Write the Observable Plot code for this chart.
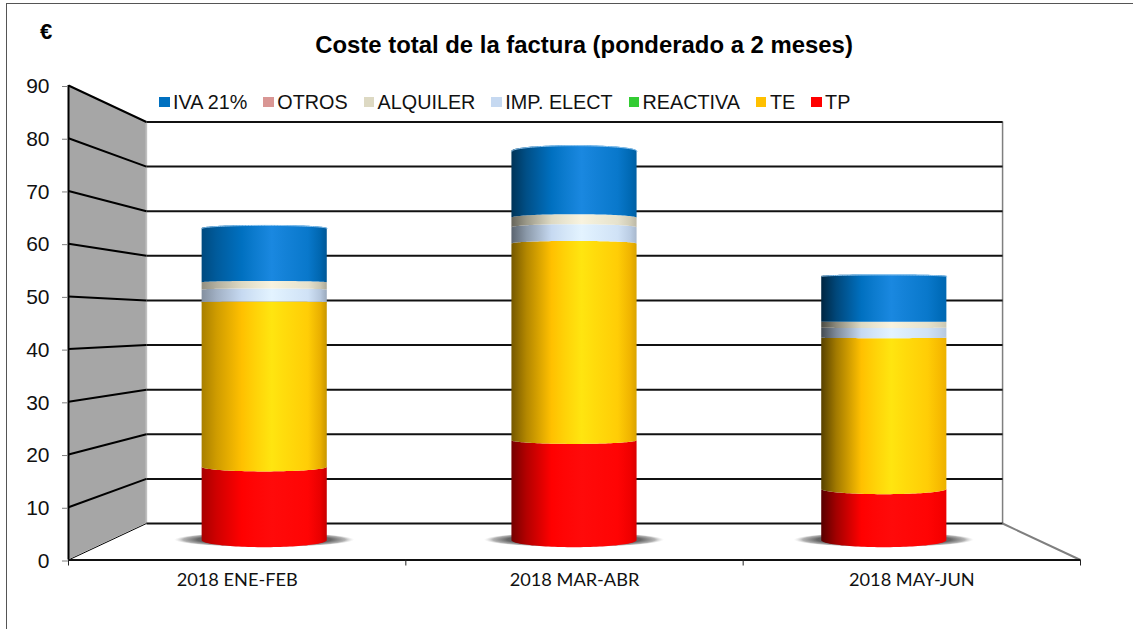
<!DOCTYPE html>
<html lang="es">
<head>
<meta charset="utf-8">
<script src="https://cdn.jsdelivr.net/npm/d3@7"></script>
<script src="https://cdn.jsdelivr.net/npm/@observablehq/plot@0.6"></script>
<style>
  html, body { margin: 0; padding: 0; background: #fff; overflow: hidden; }
  #chart { position: relative; width: 1133px; height: 629px; font-family: "Liberation Sans", Arial, sans-serif; color: #111; }
  #frame { position: absolute; left: 5.5px; top: 3px; right: -5px; bottom: -5px; border-left: 1.5px solid #555; border-top: 1.5px solid #555; }
  #chart svg { position: absolute; left: 0; top: 0; }
  #title { position: absolute; left: 0; width: 1168px; top: 31px; text-align: center; font-weight: bold; font-size: 23.9px; line-height: 28px; color: #000; z-index: 2; }
  #unit { position: absolute; left: 40px; top: 20px; font-weight: bold; font-size: 22px; line-height: 24px; color: #000; z-index: 2; }
  #legend { position: absolute; left: 159px; top: 91px; display: flex; font-size: 19.8px; line-height: 22px; z-index: 2; white-space: nowrap; }
  #legend .item { display: flex; align-items: center; margin-right: 15.9px; }
  #legend .sw { width: 10.5px; height: 10.5px; margin-right: 3.5px; }
</style>
</head>
<body>
<div id="chart">
  <div id="frame"></div>
  <div id="title">Coste total de la factura (ponderado a 2 meses)</div>
  <div id="unit">€</div>
  <div id="legend"></div>
</div>
<script>
const categories = ["2018 ENE-FEB", "2018 MAR-ABR", "2018 MAY-JUN"];
const tp       = [15.15, 20.65, 10.6];
const te       = [34.0, 40.6, 31.2];
const reactiva = [0, 0, 0];
const impElect = [2.6, 3.35, 2.05];
const alquiler = [1.5, 2.0, 1.25];
const otros    = [0, 0, 0];
const iva      = [11.2, 13.8, 9.45];

const seriesNames  = ["TP", "TE", "REACTIVA", "IMP. ELECT", "ALQUILER", "OTROS", "IVA 21%"];
const seriesValues = [tp, te, reactiva, impElect, alquiler, otros, iva];
const seriesColors = ["#FF0000", "#FFC000", "#33CC33", "#C6D9F1", "#DDD9C3", "#D99694", "#0070C0"];
const seriesShines = ["#FF0A0A", "#FFE510", "#66EE66", "#E3F3FF", "#F8F3DF", "#EEC0BE", "#1A88E0"];
const legendOrder  = [6, 5, 4, 3, 2, 1, 0];
const yTicks = d3.range(0, 100, 10);

// Depth of the 3-D box, in axis units
const wallX = 0.231, wallLow = 6.92, wallTop = 83.08, barDepth = 0.53, barHalf = 0.1855, shadowHalf = 0.267;
const projY = (v, d) => v + d * (wallLow + v * (wallTop - wallLow) / 90 - v);
const projX = (u, d) => u + d * (wallX + u * (3 - 2 * wallX) / 3 - u);
const sag = (u) => 1.45 - 0.0326 * u;
const ts = d3.range(0, 61).map((i) => -Math.cos(Math.PI * i / 60));
const arc = (t) => Math.sqrt(Math.max(0, 1 - t * t));

// Edge darkening of each cylinder, left and right
const edgeLeft = [0.66, 0.46, 0.34], edgeRight = [0.78, 0.85, 0.92];

function defsMark() {
  const defs = d3.create("svg:defs");
  seriesColors.forEach((c, s) => categories.forEach((_, b) => {
    const dim = (f) => d3.interpolateRgb("#000", c)(f);
    const mix = (t) => d3.interpolateRgb(c, seriesShines[s])(t);
    const lf = edgeLeft[b], rf = edgeRight[b];
    const g = defs.append("linearGradient").attr("id", `g${s}-${b}`).attr("x1", 0).attr("x2", 1).attr("y1", 0).attr("y2", 0);
    [[0, dim(lf)], [0.12, dim(lf + (1 - lf) * 0.45)], [0.32, c], [0.42, mix(0.45)], [0.56, seriesShines[s]],
     [0.66, mix(0.75)], [0.85, mix(0.35)], [0.95, dim(rf + (1 - rf) * 0.6)], [1, dim(rf)]]
      .forEach(([o, col]) => g.append("stop").attr("offset", o).attr("stop-color", col));
  }));
  const r = defs.append("radialGradient").attr("id", "shadow");
  [[0, "#555", 1], [0.74, "#666", 1], [0.9, "#a5a5a5", 0.85], [1, "#ddd", 0]]
    .forEach(([o, col, a]) => r.append("stop").attr("offset", o).attr("stop-color", col).attr("stop-opacity", a));
  return defs.node();
}

const marks = [defsMark];

// Left wall
const depths = [0, 1];
marks.push(Plot.area(depths, {x1: (d) => projX(0, d), y1: (d) => projY(0, d), y2: (d) => projY(90, d), fill: "#A6A6A6"}));
marks.push(Plot.ruleX([wallX], {y1: projY(0, 1), y2: projY(90, 1), stroke: "#BFBFBF", strokeWidth: 1.5}));

// Right edge of the back wall and floor side
marks.push(Plot.ruleX([3 - wallX], {y1: projY(0, 1), y2: projY(90, 1), stroke: "#7F7F7F", strokeWidth: 1.5}));
marks.push(Plot.link([0], {x1: 3 - wallX, y1: projY(0, 1), x2: 3, y2: 0, stroke: "#7F7F7F", strokeWidth: 2}));

// Gridlines on the side wall and back wall
marks.push(Plot.link(yTicks, {x1: 0, y1: (v) => v, x2: wallX, y2: (v) => projY(v, 1), stroke: "#000", strokeWidth: (v) => v === 0 ? 1 : 2}));
marks.push(Plot.link(yTicks, {x1: wallX, y1: (v) => projY(v, 1), x2: 3 - wallX, y2: (v) => projY(v, 1), stroke: "#111", strokeWidth: 2}));

// Shadows below the cylinders
categories.forEach((_, b) => {
  const cx = projX(b + 0.5, barDepth), cy = projY(0, barDepth) + 0.1;
  const pts = ts.map((t) => ({x: cx + shadowHalf * t, y1: cy - 1.42 * arc(t), y2: cy + 1.42 * arc(t)}));
  marks.push(Plot.area(pts, {x1: "x", y1: "y1", y2: "y2", fill: "url(#shadow)"}));
});

// Cylinders
categories.forEach((_, b) => {
  const cx = projX(b + 0.5, barDepth);
  let base = 0, lastTop = null;
  seriesValues.forEach((vals, s) => {
    const v = vals[b];
    if (v > 0) {
      const u0 = projY(base, barDepth), u1 = projY(base + v, barDepth);
      const pts = ts.map((t) => ({
        x: cx + barHalf * t,
        y1: u0 - sag(u0) * arc(t),
        y2: u1 - sag(u1) * arc(t)
      }));
      marks.push(Plot.area(pts, {x1: "x", y1: "y1", y2: "y2", fill: `url(#g${s}-${b})`}));
      lastTop = pts;
    }
    base += v;
  });
  marks.push(Plot.line(lastTop, {x: "x", y: "y2", stroke: "#8CC4EE", strokeWidth: 1}));
});

// Axes
marks.push(Plot.ruleX([0], {y1: 0, y2: 90, stroke: "#000", strokeWidth: 2}));
marks.push(Plot.ruleY([0], {x1: 0, x2: 3, stroke: "#111", strokeWidth: 2}));
marks.push(Plot.axisY({ticks: yTicks, tickSize: 6, tickPadding: 13, dy: 1, label: null, fontSize: 21, fontFamily: "Liberation Sans", stroke: "#7F7F7F", fill: "#111"}));
marks.push(Plot.axisX({ticks: [0, 1, 2, 3], tickSize: 6, tickFormat: () => "", label: null, stroke: "#222"}));
marks.push(Plot.axisX({ticks: [0.5, 1.5, 2.5], tickSize: 0, tickPadding: 13, tickFormat: (d) => categories[Math.floor(d)], label: null, fontSize: 18.2, fontFamily: "Lato", fill: "#111"}));

const plot = Plot.plot({
  width: 1133,
  height: 629,
  marginLeft: 68,
  marginRight: 53,
  marginTop: 85,
  marginBottom: 69.5,
  style: {background: "transparent", overflow: "visible"},
  x: {domain: [0, 3], axis: null},
  y: {domain: [0, 90], axis: null},
  marks
});
document.getElementById("chart").appendChild(plot);

const legend = d3.select("#legend");
legendOrder.forEach((s) => {
  const item = legend.append("div").attr("class", "item");
  item.append("span").attr("class", "sw").style("background", seriesColors[s]);
  item.append("span").text(seriesNames[s]);
});
</script>
</body>
</html>
